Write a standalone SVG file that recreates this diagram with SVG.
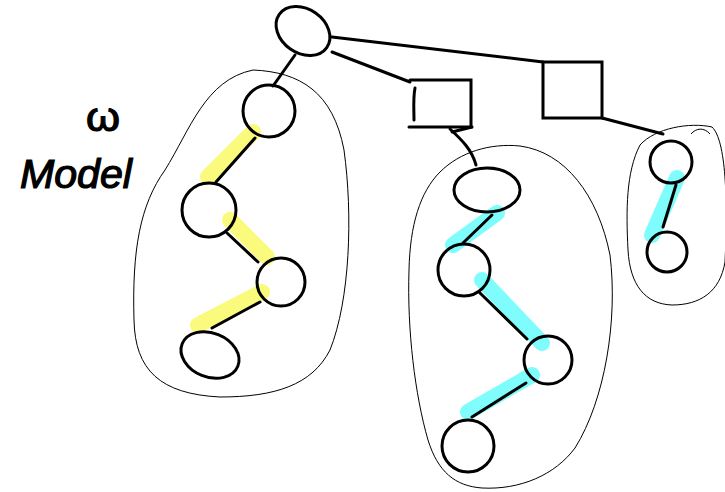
<svg xmlns="http://www.w3.org/2000/svg" width="725" height="492" viewBox="0 0 725 492">
  <style>
    .node { fill: none; stroke: #000; stroke-width: 3; }
    .edge { fill: none; stroke: #000; stroke-width: 3; stroke-linecap: round; }
    .blob { fill: none; stroke: #000; stroke-width: 1; }
    .hl-y { fill: none; stroke: #fafa7c; stroke-width: 16; stroke-linecap: round; }
    .hl-c { fill: none; stroke: #7ffdfd; stroke-width: 16; stroke-linecap: round; }
    .hand { font-family: "Liberation Sans", "DejaVu Sans", sans-serif; fill: #000; stroke: #000; stroke-width: 1.2; }
  </style>
  <rect width="725" height="492" fill="#fff"/>

  <!-- outlines around each subtree -->
  <g id="groups">
    <path class="blob" d="M253,70 C300,72 333,92 344,150 C353,215 350,300 330,350 C312,385 275,397 220,397 C160,394 135,370 134,320 C132,250 140,205 165,170 C190,130 205,80 253,70 Z"/>
    <path class="blob" d="M440,172 C460,152 490,143 520,146 C565,152 598,195 610,255 C618,320 605,400 575,448 C555,475 520,490 482,488 C455,486 438,472 428,440 C415,395 407,330 409,270 C410,225 420,192 440,172 Z"/>
    <path class="blob" d="M640,145 C655,128 690,122 712,127 C726,140 728,200 725,262 C720,292 700,305 672,305 C645,304 630,285 628,250 C626,210 626,172 640,145 Z"/>
    <path class="blob" d="M691,134 C696,128 704,127 710,134"/>
  </g>

  <!-- highlighted paths -->
  <g id="highlights">
    <line class="hl-y" x1="253" y1="132" x2="208" y2="177"/>
    <line class="hl-y" x1="230" y1="220" x2="267" y2="257"/>
    <line class="hl-y" x1="262" y1="292" x2="198" y2="325"/>
    <line class="hl-c" x1="497" y1="213" x2="453" y2="245"/>
    <line class="hl-c" x1="482" y1="280" x2="542" y2="343" stroke-width="18"/>
    <line class="hl-c" x1="532" y1="375" x2="468" y2="412"/>
    <line class="hl-c" x1="677" y1="178" x2="652" y2="235"/>
  </g>

  <!-- connectors -->
  <g id="connectors">
    <line class="edge" x1="332" y1="37" x2="543" y2="62"/>
    <line class="edge" x1="332" y1="52" x2="410" y2="82"/>
    <line class="edge" x1="295" y1="55" x2="273" y2="86"/>
    <line class="edge" x1="602" y1="118" x2="663" y2="134"/>
    <path class="edge" d="M450,129 C462,140 472,150 476,165"/>
    <line class="edge" x1="452" y1="132" x2="472" y2="127"/>
    <line class="edge" x1="255" y1="138" x2="216" y2="182"/>
    <line class="edge" x1="227" y1="233" x2="258" y2="262"/>
    <line class="edge" x1="260" y1="302" x2="212" y2="328"/>
    <line class="edge" x1="492" y1="215" x2="463" y2="243"/>
    <line class="edge" x1="480" y1="293" x2="527" y2="339"/>
    <line class="edge" x1="526" y1="383" x2="472" y2="417"/>
    <line class="edge" x1="676" y1="185" x2="663" y2="227"/>
  </g>

  <!-- nodes -->
  <g id="root"><ellipse class="node" cx="303" cy="31" rx="29" ry="22" transform="rotate(35 303 31)"/></g>
  <g id="box-mid">
    <path class="edge" d="M410,80 H471 V127 H409"/>
    <path class="edge" d="M415,88 C413,98 414,110 414,120"/>
  </g>
  <g id="box-right"><rect class="node" x="543" y="62" width="59" height="56"/></g>

  <g id="a1"><circle class="node" cx="269" cy="111" r="26"/></g>
  <g id="a2"><circle class="node" cx="209" cy="210" r="27"/></g>
  <g id="a3"><circle class="node" cx="281" cy="282" r="24"/></g>
  <g id="a4"><ellipse class="node" cx="210" cy="355" rx="30" ry="22" transform="rotate(22 210 355)"/></g>

  <g id="b1"><ellipse class="node" cx="487" cy="190" rx="33" ry="22"/></g>
  <g id="b2"><circle class="node" cx="464" cy="270" r="26"/></g>
  <g id="b3"><circle class="node" cx="548" cy="360" r="24"/></g>
  <g id="b4"><circle class="node" cx="468" cy="446" r="26"/></g>

  <g id="c1"><circle class="node" cx="671" cy="162" r="21"/></g>
  <g id="c2"><circle class="node" cx="667" cy="252" r="20"/></g>

  <!-- label -->
  <g id="label">
    <text class="hand" x="86" y="131" font-size="40" textLength="34" lengthAdjust="spacingAndGlyphs">ω</text>
    <text class="hand" x="20" y="188" font-size="40" font-style="italic" textLength="112" lengthAdjust="spacingAndGlyphs">Model</text>
  </g>
</svg>
